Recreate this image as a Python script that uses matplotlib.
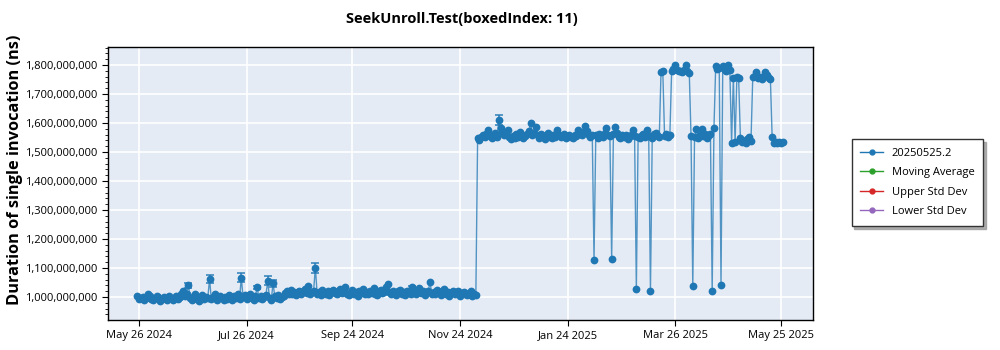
import matplotlib
matplotlib.use('Agg')
import matplotlib.pyplot as plt
import matplotlib.ticker as mticker
from matplotlib.lines import Line2D
import numpy as np
import pandas as pd

plt.rcParams['font.family'] = ['Open Sans', 'DejaVu Sans']

title = 'SeekUnroll.Test(boxedIndex: 11)'
y_label = 'Duration of single invocation (ns)'
start_date = '2024-05-25'

# one run per day, values in millions of ns
durations_mns = [
    1004, 992, 998, 1001, 989, 995, 1012, 1003, 994, 990,
    997, 1005, 999, 986, 993, 1000, 996, 991, 1002, 995,
    988, 997, 1004, 993, 999, 1010, 1022, 1005, 1012, 1041,
    998, 990, 1003, 1012, 994, 987, 999, 1006, 992, 1001,
    996, 1062, 993, 1000, 1009, 990, 997, 1004, 995, 988,
    1001, 994, 1007, 998, 991, 1003, 996, 1010, 993, 1067,
    999, 1006, 992, 1001, 1012, 995, 988, 1004, 1033, 997,
    1003, 994, 1000, 1008, 1056, 996, 990, 1047, 1002, 995,
    1006, 993, 999, 1004, 1015, 1020, 1009, 1024, 1012, 1018,
    1007, 1016, 1022, 1011, 1019, 1026, 1014, 1038, 1010, 1017,
    1021, 1101, 1012, 1018, 1008, 1023, 1015, 1011, 1020, 1006,
    1017, 1024, 1013, 1009, 1019, 1028, 1014, 1021, 1035, 1012,
    1008, 1018, 1023, 1010, 1016, 1005, 1020, 1014, 1026, 1011,
    1017, 1009, 1022, 1015, 1030, 1012, 1007, 1019, 1024, 1013,
    1018, 1033, 1045, 1016, 1010, 1021, 1014, 1008, 1019, 1025,
    1012, 1017, 1006, 1020, 1015, 1011, 1033, 1018, 1009, 1022,
    1030, 1014, 1019, 1007, 1016, 1021, 1051, 1012, 1017, 1010,
    1023, 1015, 1008, 1019, 1026, 1011, 1017, 1004, 1013, 1020,
    1009, 1016, 1022, 1005, 1014, 1018, 1011, 1007, 1015, 1020,
    1003, 1012, 1008, 1548, 1541, 1553, 1558, 1550, 1562, 1576,
    1555, 1547, 1560, 1566, 1552, 1610, 1582, 1568, 1559, 1563,
    1576, 1551, 1545, 1556, 1549, 1561, 1553, 1568, 1557, 1547,
    1554, 1562, 1571, 1599, 1560, 1566, 1587, 1558, 1549, 1563,
    1555, 1545, 1558, 1567, 1551, 1548, 1560, 1553, 1576, 1557,
    1550, 1556, 1561, 1549, 1554, 1558, 1552, 1547, 1559, 1555,
    1576, 1562, 1557, 1568, 1590, 1571, 1558, 1553, 1560, 1128,
    1557, 1548, 1563, 1555, 1551, 1566, 1583, 1560, 1554, 1130,
    1562, 1587, 1566, 1553, 1548, 1559, 1551, 1557, 1545, 1552,
    1560, 1575, 1556, 1028, 1553, 1547, 1558, 1562, 1550, 1575,
    1556, 1020, 1549, 1561, 1566, 1555, 1552, 1777, 1778, 1556,
    1563, 1551, 1558, 1779, 1785, 1800, 1783, 1778, 1781, 1776,
    1784, 1800, 1779, 1774, 1556, 1038, 1552, 1578, 1548, 1560,
    1579, 1555, 1562, 1549, 1557, 1563, 1020, 1582, 1798, 1786,
    1790, 1041, 1798, 1784, 1781, 1799, 1783, 1532, 1755, 1534,
    1757, 1754, 1548, 1534, 1537, 1531, 1546, 1552, 1538, 1757,
    1762, 1775, 1754, 1760, 1751, 1758, 1776, 1764, 1756, 1752,
    1551, 1532, 1535, 1530, 1534, 1531, 1533,
]

# runs with visible error bars: day index and half-width (millions of ns)
err_idx = [29, 41, 59, 68, 74, 77, 101, 156, 205]
err_mns = [9, 13, 16, 6, 15, 13, 17, 5, 16]

xtick_dates = ['2024-05-26', '2024-07-26', '2024-09-24', '2024-11-24',
               '2025-01-24', '2025-03-26', '2025-05-25']
xlim_dates = ['2024-05-08 06:00', '2025-06-12 08:00']
ylim_ns = [0.9207e9, 1.8631e9]

legend_labels = ['20250525.2', 'Moving Average', 'Upper Std Dev', 'Lower Std Dev']
legend_colors = ['#1f77b4', '#2ca02c', '#d62728', '#9467bd']

dates = pd.date_range(start_date, periods=len(durations_mns), freq='D')
vals = np.array(durations_mns, dtype=float) * 1e6
err_vals = np.array(err_mns, dtype=float) * 1e6

fig = plt.figure(figsize=(10, 3.5), dpi=100)
ax = fig.add_axes([0.1077, 0.0857, 0.7056, 0.7809])
ax.set_facecolor('#e5ebf5')

c = legend_colors[0]
ax.plot(dates, vals, '-', color=c, lw=1.0, alpha=0.75, zorder=2)
ax.errorbar(dates[err_idx], vals[err_idx], yerr=err_vals, fmt='none',
            ecolor=c, elinewidth=1.2, capsize=3, capthick=1.2, alpha=0.85, zorder=2)
ax.plot(dates, vals, 'o', color=c, ms=5.6, mew=0, zorder=3)
for col in legend_colors[1:]:
    ax.plot([], [], '-o', color=col)

ax.set_xlim(pd.to_datetime(xlim_dates[0]), pd.to_datetime(xlim_dates[1]))
ax.set_ylim(*ylim_ns)
ticks = pd.to_datetime(xtick_dates)
ax.set_xticks(ticks)
ax.set_xticklabels([t.strftime('%b %d %Y') for t in ticks])
ax.yaxis.set_major_locator(mticker.MultipleLocator(1e8))
ax.yaxis.set_minor_locator(mticker.MultipleLocator(2e7))
ax.yaxis.set_major_formatter(mticker.FuncFormatter(lambda v, p: f'{v:,.0f}'))
ax.tick_params(axis='both', which='major', labelsize=8, length=4, width=0.8, direction='out')
ax.tick_params(axis='y', which='minor', length=2, width=0.6)
ax.grid(True, which='major', color='white', lw=1.2)
ax.set_axisbelow(True)
for s in ax.spines.values():
    s.set_color('black')
    s.set_linewidth(1.0)

fig.text(0.462, 0.947, title, ha='center', va='center', fontsize=10.5, fontweight='bold')
fig.text(0.015, 0.514, y_label, ha='center', va='center', rotation=90,
         fontsize=11.8, fontweight='bold')

handles = [Line2D([], [], color=col, marker='o', ms=3.5, lw=1) for col in legend_colors]
fig.legend(handles, legend_labels, loc='center left', bbox_to_anchor=(0.846, 0.479),
           frameon=True, shadow={'color': '#9a9a9a', 'alpha': 0.8}, fancybox=False,
           edgecolor='#333333', fontsize=8, handlelength=2.0, borderpad=0.8,
           labelspacing=0.75)

fig.savefig('out.png', dpi=100, facecolor='white')
